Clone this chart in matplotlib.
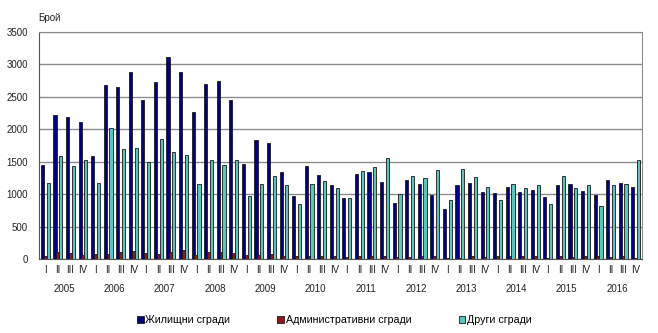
import numpy as np
import matplotlib.pyplot as plt

plt.rcParams['font.family'] = ['Liberation Sans', 'DejaVu Sans']

years = ['2005', '2006', '2007', '2008', '2009', '2010',
         '2011', '2012', '2013', '2014', '2015', '2016']
quarters = ['I', 'II', 'III', 'IV']

# Жилищни сгради
residential = [1450, 2225, 2185, 2120, 1595, 2685, 2655, 2890,
               2445, 2730, 3110, 2890, 2270, 2695, 2740, 2450,
               1470, 1835, 1790, 1345, 975, 1435, 1300, 1145,
               945, 1315, 1335, 1185, 860, 1220, 1160, 985,
               765, 1145, 1165, 1035, 1015, 1115, 1040, 1065,
               955, 1135, 1150, 1050, 980, 1215, 1175, 1115]
# Административни сгради
administrative = [50, 110, 100, 70, 75, 80, 108, 118,
                  98, 77, 108, 139, 67, 103, 113, 93,
                  62, 62, 72, 51, 51, 51, 51, 48,
                  36, 51, 51, 51, 31, 36, 41, 46,
                  15, 15, 51, 31, 51, 51, 46, 46,
                  20, 41, 36, 41, 41, 26, 41, 15]
# Други сгради
other = [1180, 1595, 1430, 1530, 1175, 2015, 1700, 1715,
         1500, 1845, 1650, 1605, 1160, 1530, 1450, 1530,
         975, 1160, 1285, 1135, 855, 1160, 1210, 1095,
         945, 1360, 1425, 1555, 1005, 1280, 1250, 1370,
         905, 1390, 1260, 1110, 915, 1160, 1095, 1135,
         850, 1275, 1095, 1145, 820, 1140, 1160, 1530]

series_names = ['Жилищни сгради', 'Административни сгради', 'Други сгради']

fig = plt.figure(figsize=(6.58, 3.33), dpi=100)
ax = fig.add_axes([0.0593, 0.222, 0.9164, 0.682])

n = len(residential)
x = np.arange(n)
w = 0.25
off = 0.23
edge = '#1a1a1a'
ax.bar(x - off, residential, w, color='#000080', edgecolor=edge, linewidth=0.6,
       label=series_names[0], zorder=3)
ax.bar(x, administrative, w, color='#8b1a1a', edgecolor=edge, linewidth=0.6,
       label=series_names[1], zorder=3)
ax.bar(x + off, other, w, color='#5cc4bc', edgecolor=edge, linewidth=0.6,
       label=series_names[2], zorder=3)

ax.set_xlim(-0.5, n - 0.5)
ax.set_ylim(0, 3500)
ax.set_yticks(np.arange(0, 3501, 500))
ax.yaxis.grid(True, color='#8c8c8c', linewidth=1.0, zorder=0)
ax.tick_params(axis='y', length=0, labelsize=7, pad=8, colors='#222222')

ax.set_xticks(x)
ax.set_xticklabels(quarters * len(years))
ax.tick_params(axis='x', length=0, labelsize=7, pad=4, colors='#222222')

for i, yr in enumerate(years):
    ax.text(i * 4 + 1.5, -0.13, yr, transform=ax.get_xaxis_transform(),
            ha='center', va='center', fontsize=7, color='#222222')

for side in ['top', 'right']:
    ax.spines[side].set_color('#8c8c8c')
for side in ['left', 'bottom']:
    ax.spines[side].set_color('#555555')

fig.text(0.058, 0.945, 'Брой', fontsize=7, ha='left', va='center', color='#222222')

fig.legend(loc='center', bbox_to_anchor=(0.508, 0.038), ncol=3, frameon=False,
           fontsize=7.7, handlelength=0.65, handleheight=0.65, handletextpad=0.15,
           columnspacing=4.4)

fig.savefig('out.png', dpi=100)
